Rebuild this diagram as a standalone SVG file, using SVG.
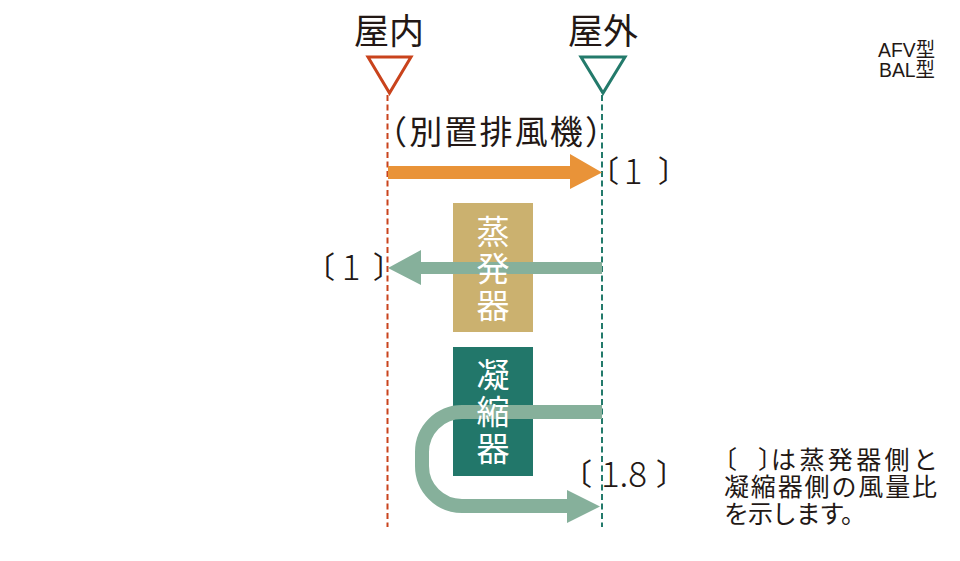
<svg xmlns="http://www.w3.org/2000/svg" width="960" height="561" viewBox="0 0 960 561">
<style>
.t{font-family:"Noto Sans CJK JP","Noto Sans",sans-serif;fill:#231815}
.d{font-family:"Noto Sans CJK JP","Noto Sans",sans-serif;fill:#231815;font-size:35px;font-weight:300;text-anchor:middle}
.b{font-family:"Noto Sans CJK JP","Noto Sans",sans-serif;fill:#231815;font-size:30px}
.w{font-family:"Noto Sans CJK JP","Noto Sans",sans-serif;fill:#ffffff;font-size:33px;writing-mode:vertical-rl;letter-spacing:4px}
.n{font-family:"Noto Sans CJK JP","Noto Sans",sans-serif;fill:#231815;font-size:25px}
.lat{font-family:"Liberation Sans","Noto Sans CJK JP",sans-serif;fill:#231815;font-size:20px}
</style>
<rect width="960" height="561" fill="#ffffff"/>
<g id="indoor">
<text class="t" x="389" y="44" font-size="35" text-anchor="middle">屋内</text>
<polygon points="368,57 411,57 389.5,93" fill="none" stroke="#c9431c" stroke-width="3"/>
</g>
<g id="outdoor">
<text class="t" x="603" y="44" font-size="35" text-anchor="middle">屋外</text>
<polygon points="581,57 625,57 603,93" fill="none" stroke="#237a6b" stroke-width="3"/>
</g>
<g id="model">
<text class="lat" x="878" y="57" textLength="57" lengthAdjust="spacingAndGlyphs">AFV型</text>
<text class="lat" x="879" y="77" textLength="56" lengthAdjust="spacingAndGlyphs">BAL型</text>
</g>
<g id="evaporator">
<rect x="453" y="203" width="80" height="129" fill="#cbb16f"/>
</g>
<g id="condenser">
<rect x="453" y="347" width="80" height="129" fill="#22776a"/>
</g>
<g id="connectors">
<line x1="387.5" y1="95" x2="387.5" y2="527" stroke="#c9431c" stroke-width="2" stroke-dasharray="6 3.5"/>
<line x1="602" y1="95" x2="602" y2="527" stroke="#237a6b" stroke-width="2" stroke-dasharray="6 3.5"/>
<path d="M388,166 H570 V154 L602,172.5 L570,189 V179 H388 Z" fill="#e99338"/>
<path d="M602,262 H421 V250 L388,268 L421,285 V274 H602 Z" fill="#86b09b"/>
<path d="M602,412 H462 A40,40 0 0 0 422,452 V466 A40,40 0 0 0 462,506 H570" fill="none" stroke="#86b09b" stroke-width="14"/>
<polygon points="567,490 600,506.5 567,523" fill="#86b09b"/>
</g>
<g id="labels">
<text class="t" x="496" y="144" font-size="33" text-anchor="middle" textLength="244" lengthAdjust="spacing">（別置排風機）</text>
<text class="b" x="589" y="182">〔</text>
<text class="d" x="633" y="184">1</text>
<text class="b" x="658" y="182">〕</text>
<text class="b" x="305" y="278">〔</text>
<text class="d" x="351" y="280">1</text>
<text class="b" x="373" y="278">〕</text>
<text class="b" x="562" y="485">〔</text>
<text class="d" x="624" y="487">1.8</text>
<text class="b" x="656" y="485">〕</text>
<text class="w" x="493" y="215">蒸発器</text>
<text class="w" x="493" y="358">凝縮器</text>
<text class="n" y="469"><tspan x="712">〔</tspan><tspan x="758">〕</tspan><tspan x="771" style="letter-spacing:3.4px">は蒸発器側と</tspan></text>
<text class="n" x="724" y="496" textLength="213" lengthAdjust="spacing">凝縮器側の風量比</text>
<text class="n" x="724" y="523" textLength="142" lengthAdjust="spacing">を示します。</text>
</g>
</svg>
